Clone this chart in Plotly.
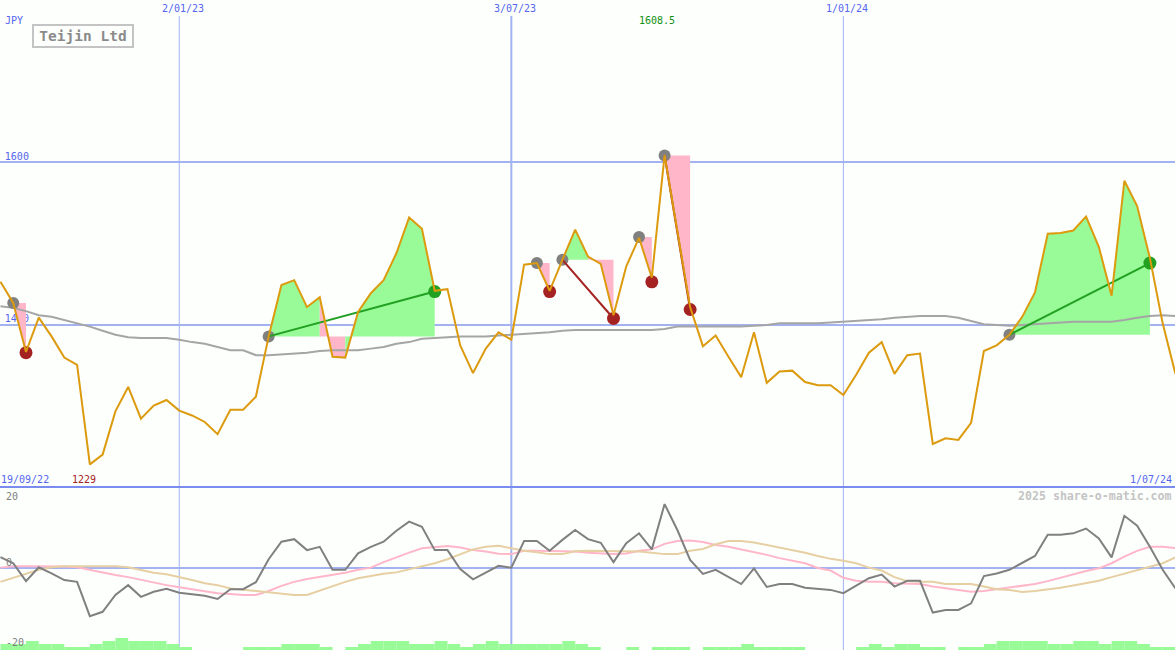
import plotly.graph_objects as go
import pandas as pd

dates = pd.date_range("2022-09-26", periods=93, freq="7D")

close = [1453,1427,1367,1409,1386,1360,1351,1229,1241,1294,1324,1285,1301,1308,1295,1289,1281,1266,1296,1296,
         1312,1386,1449,1455,1422,1434,1361,1360,1416,1439,1455,1488,1532,1518,1442,1444,1375,1341,1371,1391,
         1382,1474,1476,1442,1480,1517,1484,1475,1412,1472,1507,1458,1608.5,1513,1422,1374,1387,1361,1336,1391,
         1329,1343,1344,1330,1326,1326,1314,1339,1366,1379,1340,1363,1365,1254,1261,1259,1280,1368,1375,1388,
         1410,1440,1512,1513,1516,1533,1496,1436,1577,1546,1482,1402,1340]
sma = [1423,1421,1417,1412,1410,1406,1402,1398,1393,1388,1385,1384,1384,1384,1382,1379,1377,1373,1369,1369,
       1363,1363,1364,1365,1366,1368,1369,1369,1369,1371,1373,1377,1379,1383,1384,1385,1386,1386,1386,1387,
       1388,1389,1390,1391,1393,1394,1394,1394,1394,1394,1394,1394,1395,1398,1398,1398,1398,1398,1398,1399,
       1400,1402,1402,1402,1402,1403,1404,1405,1406,1407,1409,1410,1411,1411,1411,1409,1405,1401,1400,1399,
       1400,1401,1402,1403,1404,1404,1404,1404,1406,1409,1411,1412,1411]
momentum = [3.0,1.3,-3.6,0.2,-1.5,-3.3,-3.8,-13.2,-12.0,-7.4,-4.7,-7.9,-6.5,-5.7,-6.8,-7.1,-7.6,-8.5,-5.8,-5.8,
            -3.9,2.4,7.2,7.9,4.9,5.8,-0.5,-0.5,4.0,5.8,7.2,10.2,12.7,11.3,4.9,4.9,-0.3,-3.1,-1.2,0.6,
            0.1,7.4,7.4,4.7,7.7,10.4,7.9,6.9,1.6,6.8,9.5,5.1,17.5,10.4,2.2,-1.6,-0.5,-2.4,-4.4,-0.1,
            -5.2,-4.4,-4.4,-5.4,-5.8,-6.0,-6.9,-4.9,-2.8,-1.8,-5.1,-3.5,-3.5,-12.2,-11.5,-11.5,-9.7,-2.2,-1.5,-0.5,
            1.3,3.3,9.1,9.1,9.5,10.8,8.1,2.9,14.3,11.6,5.8,-0.5,-5.6]
fast_avg = [0.1,0.5,0.5,0.5,0.5,0.4,0.2,-0.5,-1.4,-1.9,-2.5,-3.3,-4.1,-4.7,-5.3,-5.9,-6.4,-6.9,-7.1,-7.4,
            -7.4,-6.3,-4.9,-3.8,-3.0,-2.5,-1.8,-1.3,-0.5,0.1,1.6,3.0,4.2,5.4,5.8,6.0,5.6,4.9,4.5,3.9,
            3.8,4.7,4.7,4.7,4.7,4.5,4.2,4.0,3.8,4.0,4.7,5.1,6.6,7.4,7.5,7.1,6.3,5.8,5.1,4.4,
            3.6,2.7,1.9,1.3,0.0,-0.7,-2.7,-3.5,-3.8,-3.8,-4.2,-4.4,-4.4,-5.1,-5.6,-6.0,-6.5,-6.3,-5.8,-5.4,
            -4.9,-4.4,-3.6,-2.7,-1.6,-0.8,-0.1,1.3,3.1,4.7,5.8,5.8,5.5]
slow_avg = [-3.8,-2.7,-1.5,-0.5,0.2,0.5,0.5,0.5,0.5,0.5,0.2,-0.5,-1.3,-1.7,-2.4,-3.3,-4.2,-4.7,-5.6,-6.0,
            -6.3,-6.8,-7.1,-7.4,-7.4,-6.2,-4.9,-3.8,-2.8,-2.1,-1.6,-1.2,-0.4,0.4,1.3,2.4,3.8,5.1,5.8,6.1,
            5.4,4.7,4.3,3.8,3.8,4.6,4.7,4.7,4.7,4.7,4.5,4.2,3.8,3.8,4.7,5.2,6.5,7.4,7.4,7.0,
            6.3,5.8,5.1,4.2,3.3,2.5,2.0,1.3,0.1,-0.7,-2.5,-3.6,-3.8,-3.8,-4.4,-4.4,-4.4,-5.1,-5.8,-6.0,
            -6.6,-6.3,-5.9,-5.4,-4.8,-4.2,-3.5,-2.5,-1.6,-0.7,0.2,1.3,2.9]
volume_level = [2,2,3,2,2,1,1,2,3,4,3,3,3,2,1,0,0,0,0,1,1,1,2,2,2,1,0,1,2,3,3,3,
                2,2,3,2,1,2,3,2,2,2,2,2,3,2,1,0,0,1,0,1,1,1,0,1,1,1,2,1,1,1,1,
                0,0,0,0,1,2,1,2,2,1,1,0,1,1,2,3,3,3,3,2,2,3,3,2,3,3,2,1,1]

# entry index, exit index, entry price, exit price
trade_entry = [1, 21, 42, 44, 50, 52, 79]
trade_exit = [2, 34, 43, 48, 51, 54, 90]
entry_price = [1427, 1386, 1476, 1480, 1508, 1608, 1388]
exit_price = [1366, 1441, 1441, 1408, 1453, 1419, 1476]

vline_dates = ["2023-01-02", "2023-07-03", "2024-01-01"]
vline_labels = ["2/01/23", "3/07/23", "1/01/24"]
vline_widths = [1, 2, 1]
price_grid = [1400, 1600]

BG = "#fdfffd"
GRID = "#a3b2f0"
FRAME = "#7a8cf0"
BLUE = "#5566ee"
ORANGE = "#dc9a0e"
PINK = "#ffb6c9"
PALE = "#98fb98"
TAN = "#e6cfa2"
GRAY = "#808080"
SMA_GRAY = "#a5a5a5"
RED = "#a52222"
GREEN = "#22a022"
FONT = "DejaVu Sans Mono"

fig = go.Figure()

# price-axis labels sit below everything else, so the trades can cover them
fig.add_trace(go.Scatter(x=[dates[0] + pd.Timedelta(days=2.4)] * 2, y=price_grid,
                         text=[str(v) for v in price_grid], mode="text", textposition="top right",
                         textfont=dict(family=FONT, size=10, color=BLUE), showlegend=False, hoverinfo="skip"))

# trade shading: consecutive weeks of the same colour form one polygon
for a, b, base in zip(trade_entry, trade_exit, entry_price):
    i = a
    while i < b:
        gain = close[i + 1] >= base
        j = i
        while j + 1 < b and (close[j + 2] >= base) == gain:
            j += 1
        idx = list(range(i, j + 2))
        fig.add_trace(go.Scatter(x=[dates[i]] + [dates[k] for k in idx] + [dates[j + 1], dates[i]],
                                 y=[base] + [close[k] for k in idx] + [base, base],
                                 mode="lines", line=dict(width=0), fill="toself",
                                 fillcolor=PALE if gain else PINK, showlegend=False, hoverinfo="skip"))
        i = j + 1

fig.add_trace(go.Scatter(x=dates, y=sma, mode="lines", line=dict(color=SMA_GRAY, width=2), showlegend=False))

# entry and exit markers, and trade lines for trades held longer than one week
fig.add_trace(go.Scatter(x=[dates[i] for i in trade_entry], y=entry_price, mode="markers",
                         marker=dict(color=GRAY, size=12), showlegend=False))
exit_colors = [GREEN if q >= p else RED for p, q in zip(entry_price, exit_price)]
for a, b, p, q, col in zip(trade_entry, trade_exit, entry_price, exit_price, exit_colors):
    if b - a > 1:
        fig.add_trace(go.Scatter(x=[dates[a], dates[b]], y=[p, q], mode="lines",
                                 line=dict(color=col, width=2), showlegend=False))
fig.add_trace(go.Scatter(x=[dates[i] for i in trade_exit], y=exit_price, mode="markers",
                         marker=dict(color=exit_colors, size=13), showlegend=False))

fig.add_trace(go.Scatter(x=dates, y=close, mode="lines", line=dict(color=ORANGE, width=2), showlegend=False))

# lower panel
fig.add_trace(go.Bar(x=dates[:-1], y=volume_level, yaxis="y3", width=7 * 86400000, offset=0,
                     marker=dict(color=PALE, line=dict(width=0)), showlegend=False))
fig.add_trace(go.Scatter(x=dates, y=fast_avg, yaxis="y2", mode="lines", line=dict(color=PINK, width=2), showlegend=False))
fig.add_trace(go.Scatter(x=dates, y=slow_avg, yaxis="y2", mode="lines", line=dict(color=TAN, width=2), showlegend=False))
fig.add_trace(go.Scatter(x=dates, y=momentum, yaxis="y2", mode="lines", line=dict(color=GRAY, width=2), showlegend=False))

W, H = 1175, 650
SPLIT = 1 - 487 / H

def px_text(text, x, y, color, size=10, anchor="left", bold=False):
    fig.add_annotation(text=f"<b>{text}</b>" if bold else text, xref="paper", yref="paper",
                       x=x / W, y=1 - y / H, xanchor=anchor, yanchor="middle", showarrow=False,
                       font=dict(family=FONT, size=size, color=color), borderpad=0)

px_text("JPY", 4, 21, BLUE)
px_text("19/09/22", 0, 479, BLUE)
px_text("1/07/24", 1173, 479, BLUE, anchor="right")
px_text("1229", 71, 479, RED)
px_text("1608.5", 638, 21, "#109010")
px_text("20", 5, 496, GRAY)
px_text("0", 5, 562, GRAY)
px_text("-20", 5, 642, GRAY)
px_text("2025 share-o-matic.com", 1173, 496, "#c4c4c4", size=11.6, anchor="right", bold=True)
fig.add_annotation(text="<b>Teijin Ltd</b>", xref="paper", yref="paper", x=83 / W, y=1 - 36.5 / H,
                   xanchor="center", yanchor="middle", showarrow=False,
                   font=dict(family=FONT, size=14.5, color="#8a8a8a"),
                   bordercolor="#c4c4c4", borderwidth=2, borderpad=1, width=96, height=18, bgcolor=BG)

for d, label, wd in zip(vline_dates, vline_labels, vline_widths):
    fig.add_shape(type="line", xref="x", yref="paper", x0=d, x1=d, y0=0, y1=1 - 16 / H,
                  line=dict(color=GRID, width=wd), layer="below")
    fig.add_annotation(text=label, xref="x", yref="paper", x=d, y=1 - 8 / H, xshift=3.5,
                       xanchor="center", yanchor="middle", showarrow=False,
                       font=dict(family=FONT, size=10, color=BLUE))
fig.add_shape(type="line", xref="paper", yref="paper", x0=0, x1=1, y0=SPLIT, y1=SPLIT,
              line=dict(color=FRAME, width=2))

fig.update_layout(
    width=W, height=H, margin=dict(l=0, r=0, t=0, b=0), autosize=False,
    paper_bgcolor=BG, plot_bgcolor=BG, showlegend=False, hovermode=False,
    xaxis=dict(type="date", range=["2022-09-25 18:00", "2024-06-30 18:00"], visible=True, showgrid=False,
               showticklabels=False, ticks="", zeroline=False, showline=False, anchor="y2"),
    yaxis=dict(domain=[SPLIT, 1], range=[1201.2, 1798.8], tickvals=price_grid, showticklabels=False,
               ticks="", gridcolor=GRID, gridwidth=2, zeroline=False, showline=False),
    yaxis2=dict(domain=[0, SPLIT], range=[-22.47, 22.19], tickvals=[0], showticklabels=False,
                ticks="", gridcolor=GRID, gridwidth=2, zeroline=False, showline=False),
    yaxis3=dict(domain=[0, SPLIT], overlaying="y2", range=[0, 54.33], showticklabels=False, ticks="",
                showgrid=False, zeroline=False, showline=False),
)

fig.write_html("out.html", config=dict(displayModeBar=False),
               post_script="document.body.style.margin='0';document.body.style.overflow='hidden';")
